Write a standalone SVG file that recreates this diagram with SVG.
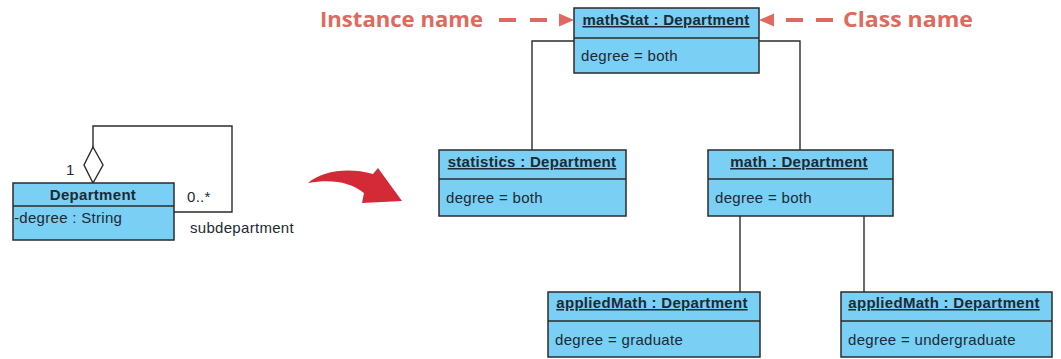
<svg xmlns="http://www.w3.org/2000/svg" width="1061" height="359" viewBox="0 0 1061 359">
<style>
.box{fill:#7ACFF5;stroke:#2b2b2b;stroke-width:1.5}
.div{stroke:#2b2b2b;stroke-width:1.5}
.t{font-family:"Liberation Sans",Arial,sans-serif;font-size:15px;fill:#1c2a33;letter-spacing:0.3px}
.ti{font-weight:bold;text-decoration:underline;text-anchor:middle}
.b{font-weight:bold;text-anchor:middle}
.con{fill:none;stroke:#2b2b2b;stroke-width:1.4}
.ann{font-family:"Open Sans","Liberation Sans",sans-serif;font-size:21px;font-weight:bold;fill:#E0695F}
.dash{stroke:#E0695F;stroke-width:4}
.ah{fill:#E0695F}
</style>
<rect width="1061" height="359" fill="#ffffff"/>

<g id="connectors">
<path class="con" d="M93 147 V126 H232 V212 H174"/>
<polygon points="93,147 103,165 93,183 84,165" fill="#ffffff" stroke="#2b2b2b" stroke-width="1.4"/>
<path class="con" d="M532 150 V41 H574"/>
<path class="con" d="M800 150 V41 H759"/>
<path class="con" d="M740 216 V292"/>
<path class="con" d="M864 216 V292"/>
<text class="t" x="66" y="175">1</text>
<text class="t" x="187" y="202">0..*</text>
<text class="t" x="190" y="233">subdepartment</text>
</g>

<g id="annotations">
<text class="ann" x="320" y="27" textLength="163" lengthAdjust="spacingAndGlyphs">Instance name</text>
<line class="dash" x1="499" y1="20" x2="516" y2="20"/>
<line class="dash" x1="530" y1="20" x2="547" y2="20"/>
<polygon class="ah" points="559,13.5 574,20 559,26.5"/>
<text class="ann" x="843" y="27" textLength="130" lengthAdjust="spacingAndGlyphs">Class name</text>
<polygon class="ah" points="774,13.5 759,20 774,26.5"/>
<line class="dash" x1="786" y1="20" x2="803" y2="20"/>
<line class="dash" x1="816" y1="20" x2="833" y2="20"/>
</g>

<g id="red-arrow">
<path d="M308 183 C322 171 348 167 373 174 L378 168 L402 201 L362 203 L364 193 C350 182 332 179 308 183 Z" fill="#D42A37"/>
</g>

<g id="department">
<rect class="box" x="13" y="183" width="161" height="57"/>
<line class="div" x1="13" y1="206" x2="174" y2="206"/>
<text class="t b" x="93" y="200">Department</text>
<text class="t" x="14" y="223">-degree : String</text>
</g>

<g id="mathStat">
<rect class="box" x="574" y="8" width="185" height="65"/>
<line class="div" x1="574" y1="38" x2="759" y2="38"/>
<text class="t ti" x="666" y="25">mathStat : Department</text>
<text class="t" x="581" y="61">degree = both</text>
</g>

<g id="statistics">
<rect class="box" x="439" y="150" width="187" height="66"/>
<line class="div" x1="439" y1="179" x2="626" y2="179"/>
<text class="t ti" x="532" y="167">statistics : Department</text>
<text class="t" x="446" y="203">degree = both</text>
</g>

<g id="math">
<rect class="box" x="708" y="150" width="185" height="66"/>
<line class="div" x1="708" y1="179" x2="893" y2="179"/>
<text class="t ti" x="799" y="167">math : Department</text>
<text class="t" x="715" y="203">degree = both</text>
</g>

<g id="appliedMath1">
<rect class="box" x="548" y="292" width="212" height="65"/>
<line class="div" x1="548" y1="321" x2="760" y2="321"/>
<text class="t ti" x="652" y="308">appliedMath : Department</text>
<text class="t" x="555" y="345">degree = graduate</text>
</g>

<g id="appliedMath2">
<rect class="box" x="841" y="292" width="211" height="65"/>
<line class="div" x1="841" y1="321" x2="1052" y2="321"/>
<text class="t ti" x="944" y="308">appliedMath : Department</text>
<text class="t" x="848" y="345">degree = undergraduate</text>
</g>
</svg>
